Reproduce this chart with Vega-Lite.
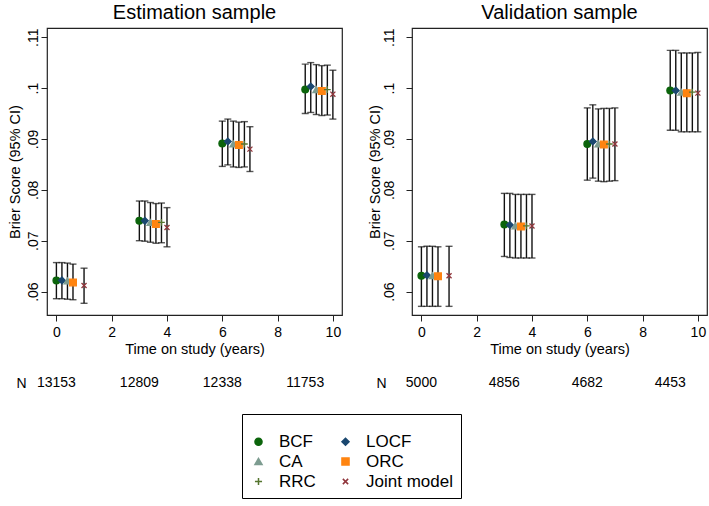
{
 "$schema": "https://vega.github.io/schema/vega-lite/v6.json",
 "padding": {"left": 6, "top": 2, "right": 2, "bottom": 4},
 "background": "white",
 "config": {
  "font": "Liberation Sans",
  "view": {"stroke": "#222", "strokeWidth": 1.2},
  "axis": {"grid": false, "domain": false, "labelColor": "#000", "titleColor": "#000", "tickColor": "#222", "labelFontSize": 14, "titleFontSize": 14.5, "titleFontWeight": "normal", "tickSize": 6},
  "title": {"fontSize": 20, "fontWeight": "normal", "color": "#000", "offset": 5}
 },
 "datasets": {
  "est": [
   {"sample":"Estimation","method":"BCF","t":0,"est":0.0622,"lo":0.0586,"hi":0.0657},
   {"sample":"Estimation","method":"LOCF","t":0.2,"est":0.0622,"lo":0.0586,"hi":0.0657},
   {"sample":"Estimation","method":"CA","t":0.4,"est":0.0621,"lo":0.0585,"hi":0.0656},
   {"sample":"Estimation","method":"ORC","t":0.6,"est":0.0618,"lo":0.0584,"hi":0.0654},
   {"sample":"Estimation","method":"Joint model","t":1.0,"est":0.0612,"lo":0.0577,"hi":0.0646},
   {"sample":"Estimation","method":"BCF","t":3,"est":0.0739,"lo":0.0700,"hi":0.0778},
   {"sample":"Estimation","method":"LOCF","t":3.2,"est":0.0739,"lo":0.0699,"hi":0.0778},
   {"sample":"Estimation","method":"CA","t":3.4,"est":0.0736,"lo":0.0697,"hi":0.0775},
   {"sample":"Estimation","method":"ORC","t":3.6,"est":0.0733,"lo":0.0695,"hi":0.0773},
   {"sample":"Estimation","method":"RRC","t":3.8,"est":0.0736,"lo":0.0696,"hi":0.0774},
   {"sample":"Estimation","method":"Joint model","t":4.0,"est":0.0726,"lo":0.0688,"hi":0.0765},
   {"sample":"Estimation","method":"BCF","t":6,"est":0.0891,"lo":0.0846,"hi":0.0935},
   {"sample":"Estimation","method":"LOCF","t":6.2,"est":0.0895,"lo":0.0849,"hi":0.0939},
   {"sample":"Estimation","method":"CA","t":6.4,"est":0.0890,"lo":0.0845,"hi":0.0935},
   {"sample":"Estimation","method":"ORC","t":6.6,"est":0.0888,"lo":0.0844,"hi":0.0933},
   {"sample":"Estimation","method":"RRC","t":6.8,"est":0.0890,"lo":0.0845,"hi":0.0934},
   {"sample":"Estimation","method":"Joint model","t":7.0,"est":0.0880,"lo":0.0836,"hi":0.0924},
   {"sample":"Estimation","method":"BCF","t":9,"est":0.0997,"lo":0.0950,"hi":0.1047},
   {"sample":"Estimation","method":"LOCF","t":9.2,"est":0.1003,"lo":0.0952,"hi":0.1050},
   {"sample":"Estimation","method":"CA","t":9.4,"est":0.0997,"lo":0.0948,"hi":0.1046},
   {"sample":"Estimation","method":"ORC","t":9.6,"est":0.0994,"lo":0.0946,"hi":0.1044},
   {"sample":"Estimation","method":"RRC","t":9.8,"est":0.0997,"lo":0.0947,"hi":0.1045},
   {"sample":"Estimation","method":"Joint model","t":10.0,"est":0.0988,"lo":0.0939,"hi":0.1035},
   {"sample":"Validation","method":"BCF","t":0,"est":0.0631,"lo":0.0571,"hi":0.0688},
   {"sample":"Validation","method":"LOCF","t":0.2,"est":0.0632,"lo":0.0571,"hi":0.0689},
   {"sample":"Validation","method":"CA","t":0.4,"est":0.0631,"lo":0.0571,"hi":0.0689},
   {"sample":"Validation","method":"ORC","t":0.6,"est":0.0630,"lo":0.0571,"hi":0.0688},
   {"sample":"Validation","method":"Joint model","t":1.0,"est":0.0631,"lo":0.0571,"hi":0.0689},
   {"sample":"Validation","method":"BCF","t":3,"est":0.0732,"lo":0.0669,"hi":0.0793},
   {"sample":"Validation","method":"LOCF","t":3.2,"est":0.0731,"lo":0.0667,"hi":0.0793},
   {"sample":"Validation","method":"CA","t":3.4,"est":0.0729,"lo":0.0666,"hi":0.0791},
   {"sample":"Validation","method":"ORC","t":3.6,"est":0.0728,"lo":0.0666,"hi":0.0791},
   {"sample":"Validation","method":"RRC","t":3.8,"est":0.0729,"lo":0.0666,"hi":0.0791},
   {"sample":"Validation","method":"Joint model","t":4.0,"est":0.0729,"lo":0.0666,"hi":0.0791},
   {"sample":"Validation","method":"BCF","t":6,"est":0.0890,"lo":0.0819,"hi":0.0961},
   {"sample":"Validation","method":"LOCF","t":6.2,"est":0.0895,"lo":0.0823,"hi":0.0967},
   {"sample":"Validation","method":"CA","t":6.4,"est":0.0890,"lo":0.0817,"hi":0.0959},
   {"sample":"Validation","method":"ORC","t":6.6,"est":0.0889,"lo":0.0816,"hi":0.0960},
   {"sample":"Validation","method":"RRC","t":6.8,"est":0.0890,"lo":0.0817,"hi":0.0960},
   {"sample":"Validation","method":"Joint model","t":7.0,"est":0.0890,"lo":0.0818,"hi":0.0961},
   {"sample":"Validation","method":"BCF","t":9,"est":0.0995,"lo":0.0917,"hi":0.1074},
   {"sample":"Validation","method":"LOCF","t":9.2,"est":0.0995,"lo":0.0917,"hi":0.1074},
   {"sample":"Validation","method":"CA","t":9.4,"est":0.0992,"lo":0.0914,"hi":0.1069},
   {"sample":"Validation","method":"ORC","t":9.6,"est":0.0990,"lo":0.0914,"hi":0.1069},
   {"sample":"Validation","method":"RRC","t":9.8,"est":0.0992,"lo":0.0914,"hi":0.1069},
   {"sample":"Validation","method":"Joint model","t":10.0,"est":0.0990,"lo":0.0914,"hi":0.1070}
  ],
  "nrow": [
   {"sample":"Estimation","lab":"N","t":0,"n":"13153"},
   {"sample":"Estimation","lab":"N","t":3,"n":"12809"},
   {"sample":"Estimation","lab":"N","t":6,"n":"12338"},
   {"sample":"Estimation","lab":"N","t":9,"n":"11753"},
   {"sample":"Validation","lab":"N","t":0,"n":"5000"},
   {"sample":"Validation","lab":"N","t":3,"n":"4856"},
   {"sample":"Validation","lab":"N","t":6,"n":"4682"},
   {"sample":"Validation","lab":"N","t":9,"n":"4453"}
  ]
 },
 "spacing": 23,
 "hconcat": [
  {
   "spacing": 16,
   "vconcat": [
    {
     "title": "Estimation sample",
     "width": 295, "height": 287,
     "data": {"name": "est"},
     "transform": [{"filter": "datum.sample === 'Estimation'"}],
     "encoding": {
      "x": {"field": "t", "type": "quantitative", "scale": {"domain": [-0.34, 10.33], "nice": false, "zero": false}, "axis": {"values": [0,2,4,6,8,10], "title": "Time on study (years)", "labelPadding": 4, "titlePadding": 3}}
     },
     "layer": [
      {"mark": {"type": "rule", "color": "#111", "strokeWidth": 1.4},
       "encoding": {"y": {"field": "lo", "type": "quantitative", "scale": {"domain": [0.0554, 0.1118], "nice": false, "zero": false}, "axis": {"values": [0.06,0.07,0.08,0.09,0.1,0.11], "labelExpr": "replace(format(datum.value, '.2~f'), '0.', '.')", "labelAngle": -90, "labelAlign": "center", "labelBaseline": "bottom", "labelPadding": 1, "title": "Brier Score  (95% CI)", "titlePadding": 4}}, "y2": {"field": "hi"}}},
      {"mark": {"type": "tick", "orient": "horizontal", "color": "#111", "size": 7, "thickness": 1.4},
       "encoding": {"y": {"field": "lo", "type": "quantitative", "scale": {"domain": [0.0554, 0.1118], "nice": false, "zero": false}, "axis": {"values": [0.06,0.07,0.08,0.09,0.1,0.11], "labelExpr": "replace(format(datum.value, '.2~f'), '0.', '.')", "labelAngle": -90, "labelAlign": "center", "labelBaseline": "bottom", "labelPadding": 1, "title": "Brier Score  (95% CI)", "titlePadding": 4}}}},
      {"mark": {"type": "tick", "orient": "horizontal", "color": "#111", "size": 7, "thickness": 1.4},
       "encoding": {"y": {"field": "hi", "type": "quantitative", "scale": {"domain": [0.0554, 0.1118], "nice": false, "zero": false}, "axis": {"values": [0.06,0.07,0.08,0.09,0.1,0.11], "labelExpr": "replace(format(datum.value, '.2~f'), '0.', '.')", "labelAngle": -90, "labelAlign": "center", "labelBaseline": "bottom", "labelPadding": 1, "title": "Brier Score  (95% CI)", "titlePadding": 4}}}},
      {"mark": {"type": "point", "filled": true, "size": 45, "strokeWidth": 1.3, "opacity": 1},
       "encoding": {
        "y": {"field": "est", "type": "quantitative", "scale": {"domain": [0.0554, 0.1118], "nice": false, "zero": false}, "axis": {"values": [0.06,0.07,0.08,0.09,0.1,0.11], "labelExpr": "replace(format(datum.value, '.2~f'), '0.', '.')", "labelAngle": -90, "labelAlign": "center", "labelBaseline": "bottom", "labelPadding": 1, "title": "Brier Score  (95% CI)", "titlePadding": 4}},
        "fill": {"field": "method", "type": "nominal", "scale": {"domain": ["BCF","LOCF","CA","ORC","RRC","Joint model"], "range": ["#0b640b","#1a476f","#7d9c90","#ff8410","#55752f","#90353b"]},
                 "legend": {"title": " ", "titleFontSize": 8, "titlePadding": 3, "orient": "none", "legendX": 195, "legendY": 386, "columns": 2, "direction": "horizontal", "strokeColor": "#000", "padding": 8, "labelFontSize": 17, "labelColor": "#000", "symbolSize": 50, "symbolStrokeWidth": 1.5, "rowPadding": 2, "columnPadding": 21, "labelOffset": 12}},
        "stroke": {"field": "method", "type": "nominal", "scale": {"domain": ["BCF","LOCF","CA","ORC","RRC","Joint model"], "range": ["#0b640b","#1a476f","#7d9c90","#ff8410","#55752f","#90353b"]}},
        "shape": {"field": "method", "type": "nominal", "scale": {"domain": ["BCF","LOCF","CA","ORC","RRC","Joint model"], "range": ["circle","diamond","triangle-up","square","M-1,0L1,0M0,-1L0,1","M-0.75,-0.75L0.75,0.75M-0.75,0.75L0.75,-0.75"]}}
       }}
     ]
    },
    {
     "width": 295, "height": 20,
     "view": {"stroke": null},
     "data": {"name": "nrow"},
     "transform": [{"filter": "datum.sample === 'Estimation'"}],
     "mark": {"type": "text", "fontSize": 14, "color": "#000"},
     "encoding": {
      "x": {"field": "t", "type": "quantitative", "scale": {"domain": [-0.34, 10.33], "nice": false, "zero": false}, "axis": null},
      "y": {"field": "lab", "type": "nominal", "axis": {"title": null, "domain": false, "ticks": false, "labelPadding": 21, "labelFontSize": 14}},
      "text": {"field": "n", "type": "nominal"}
     }
    }
   ]
  },
  {
   "spacing": 16,
   "vconcat": [
    {
     "title": "Validation sample",
     "width": 295, "height": 287,
     "data": {"name": "est"},
     "transform": [{"filter": "datum.sample === 'Validation'"}],
     "encoding": {
      "x": {"field": "t", "type": "quantitative", "scale": {"domain": [-0.34, 10.33], "nice": false, "zero": false}, "axis": {"values": [0,2,4,6,8,10], "title": "Time on study (years)", "labelPadding": 4, "titlePadding": 3}}
     },
     "layer": [
      {"mark": {"type": "rule", "color": "#111", "strokeWidth": 1.4},
       "encoding": {"y": {"field": "lo", "type": "quantitative", "scale": {"domain": [0.0554, 0.1118], "nice": false, "zero": false}, "axis": {"values": [0.06,0.07,0.08,0.09,0.1,0.11], "labelExpr": "replace(format(datum.value, '.2~f'), '0.', '.')", "labelAngle": -90, "labelAlign": "center", "labelBaseline": "bottom", "labelPadding": 10, "title": "Brier Score  (95% CI)", "titlePadding": 0}}, "y2": {"field": "hi"}}},
      {"mark": {"type": "tick", "orient": "horizontal", "color": "#111", "size": 7, "thickness": 1.4},
       "encoding": {"y": {"field": "lo", "type": "quantitative", "scale": {"domain": [0.0554, 0.1118], "nice": false, "zero": false}, "axis": {"values": [0.06,0.07,0.08,0.09,0.1,0.11], "labelExpr": "replace(format(datum.value, '.2~f'), '0.', '.')", "labelAngle": -90, "labelAlign": "center", "labelBaseline": "bottom", "labelPadding": 10, "title": "Brier Score  (95% CI)", "titlePadding": 0}}}},
      {"mark": {"type": "tick", "orient": "horizontal", "color": "#111", "size": 7, "thickness": 1.4},
       "encoding": {"y": {"field": "hi", "type": "quantitative", "scale": {"domain": [0.0554, 0.1118], "nice": false, "zero": false}, "axis": {"values": [0.06,0.07,0.08,0.09,0.1,0.11], "labelExpr": "replace(format(datum.value, '.2~f'), '0.', '.')", "labelAngle": -90, "labelAlign": "center", "labelBaseline": "bottom", "labelPadding": 10, "title": "Brier Score  (95% CI)", "titlePadding": 0}}}},
      {"mark": {"type": "point", "filled": true, "size": 45, "strokeWidth": 1.3, "opacity": 1},
       "encoding": {
        "y": {"field": "est", "type": "quantitative", "scale": {"domain": [0.0554, 0.1118], "nice": false, "zero": false}, "axis": {"values": [0.06,0.07,0.08,0.09,0.1,0.11], "labelExpr": "replace(format(datum.value, '.2~f'), '0.', '.')", "labelAngle": -90, "labelAlign": "center", "labelBaseline": "bottom", "labelPadding": 10, "title": "Brier Score  (95% CI)", "titlePadding": 0}},
        "fill": {"field": "method", "type": "nominal", "scale": {"domain": ["BCF","LOCF","CA","ORC","RRC","Joint model"], "range": ["#0b640b","#1a476f","#7d9c90","#ff8410","#55752f","#90353b"]}},
        "stroke": {"field": "method", "type": "nominal", "scale": {"domain": ["BCF","LOCF","CA","ORC","RRC","Joint model"], "range": ["#0b640b","#1a476f","#7d9c90","#ff8410","#55752f","#90353b"]}},
        "shape": {"field": "method", "type": "nominal", "scale": {"domain": ["BCF","LOCF","CA","ORC","RRC","Joint model"], "range": ["circle","diamond","triangle-up","square","M-1,0L1,0M0,-1L0,1","M-0.75,-0.75L0.75,0.75M-0.75,0.75L0.75,-0.75"]}}
       }}
     ]
    },
    {
     "width": 295, "height": 20,
     "view": {"stroke": null},
     "data": {"name": "nrow"},
     "transform": [{"filter": "datum.sample === 'Validation'"}],
     "mark": {"type": "text", "fontSize": 14, "color": "#000"},
     "encoding": {
      "x": {"field": "t", "type": "quantitative", "scale": {"domain": [-0.34, 10.33], "nice": false, "zero": false}, "axis": null},
      "y": {"field": "lab", "type": "nominal", "axis": {"title": null, "domain": false, "ticks": false, "labelPadding": 26, "labelFontSize": 14}},
      "text": {"field": "n", "type": "nominal"}
     }
    }
   ]
  }
 ]
}
